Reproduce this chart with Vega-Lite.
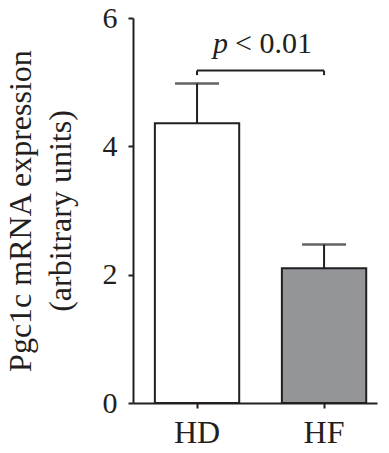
{
  "$schema": "https://vega.github.io/schema/vega-lite/v6.json",
  "width": 244,
  "height": 385,
  "autosize": "none",
  "padding": {"left": 133, "top": 18, "right": 12, "bottom": 50},
  "background": "white",
  "config": {
    "view": {"stroke": null},
    "font": "Liberation Serif"
  },
  "datasets": {
    "bars": [
      {"group": "HD", "mean": 4.36, "upper": 4.98},
      {"group": "HF", "mean": 2.10, "upper": 2.47}
    ],
    "sig": [
      {"from": "HD", "to": "HF", "y": 5.18, "yEnd": 5.11, "yText": 5.46}
    ]
  },
  "encoding": {
    "x": {
      "field": "group",
      "type": "nominal",
      "sort": ["HD", "HF"],
      "scale": {"domain": ["HD", "HF"], "paddingInner": 0.336, "paddingOuter": 0.1285, "align": 0.67},
      "axis": {
        "title": null,
        "labelAngle": 0,
        "labelFont": "Liberation Serif",
        "labelFontSize": 32,
        "labelColor": "#231f20",
        "labelPadding": 9,
        "tickSize": 5,
        "tickWidth": 2,
        "tickColor": "#231f20",
        "domainColor": "#231f20",
        "domainWidth": 2
      }
    }
  },
  "layer": [
    {
      "data": {"name": "bars"},
      "mark": {"type": "bar", "stroke": "#231f20", "strokeWidth": 2},
      "encoding": {
        "y": {
          "field": "mean",
          "type": "quantitative",
          "scale": {"domain": [0, 6], "nice": false},
          "axis": {
            "values": [0, 2, 4, 6],
            "format": "d",
            "grid": false,
            "title": ["Pgc1c mRNA expression", "(arbitrary units)"],
            "titleFont": "Liberation Serif",
            "titleFontSize": 32,
            "titleFontWeight": "normal",
            "titleColor": "#231f20",
            "titleLineHeight": 40,
            "titlePadding": 25,
            "labelFont": "Liberation Serif",
            "labelFontSize": 30,
            "labelColor": "#231f20",
            "labelPadding": 11,
            "tickSize": 5,
            "tickWidth": 2,
            "tickColor": "#231f20",
            "domainColor": "#231f20",
            "domainWidth": 2
          }
        },
        "fill": {
          "field": "group",
          "type": "nominal",
          "scale": {"domain": ["HD", "HF"], "range": ["#ffffff", "#939598"]},
          "legend": null
        }
      }
    },
    {
      "data": {"name": "bars"},
      "mark": {"type": "rule", "color": "#231f20", "strokeWidth": 2},
      "encoding": {
        "y": {"field": "mean", "type": "quantitative"},
        "y2": {"field": "upper"}
      }
    },
    {
      "data": {"name": "bars"},
      "mark": {"type": "tick", "color": "#231f20", "size": 44, "thickness": 2.5, "orient": "horizontal"},
      "encoding": {
        "y": {"field": "upper", "type": "quantitative"}
      }
    },
    {
      "data": {"name": "sig"},
      "mark": {"type": "rule", "color": "#231f20", "strokeWidth": 2},
      "encoding": {
        "x": {"field": "from", "type": "nominal"},
        "x2": {"field": "to"},
        "y": {"field": "y", "type": "quantitative"}
      }
    },
    {
      "data": {"name": "sig"},
      "mark": {"type": "rule", "color": "#231f20", "strokeWidth": 2},
      "encoding": {
        "x": {"field": "from", "type": "nominal"},
        "y": {"field": "y", "type": "quantitative"},
        "y2": {"field": "yEnd"}
      }
    },
    {
      "data": {"name": "sig"},
      "mark": {"type": "rule", "color": "#231f20", "strokeWidth": 2},
      "encoding": {
        "x": {"field": "to", "type": "nominal"},
        "y": {"field": "y", "type": "quantitative"},
        "y2": {"field": "yEnd"}
      }
    },
    {
      "data": {"name": "sig"},
      "mark": {"type": "text", "text": "p", "font": "Liberation Serif", "fontStyle": "italic", "fontSize": 30, "align": "right", "baseline": "alphabetic", "dx": 31, "color": "#231f20"},
      "encoding": {
        "x": {"field": "from", "type": "nominal"},
        "y": {"field": "yText", "type": "quantitative"}
      }
    },
    {
      "data": {"name": "sig"},
      "mark": {"type": "text", "text": "< 0.01", "font": "Liberation Serif", "fontSize": 30, "align": "left", "baseline": "alphabetic", "dx": 38, "color": "#231f20"},
      "encoding": {
        "x": {"field": "from", "type": "nominal"},
        "y": {"field": "yText", "type": "quantitative"}
      }
    }
  ]
}
